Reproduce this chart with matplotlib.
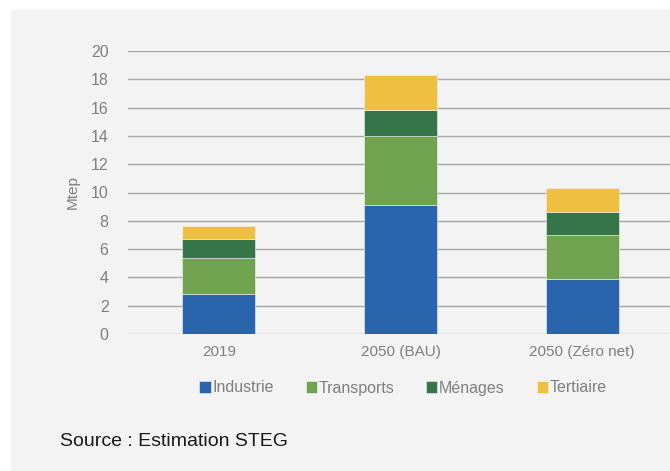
import matplotlib
matplotlib.use("Agg")
import matplotlib.pyplot as plt
from matplotlib.patches import Rectangle
import numpy as np

# Consommation d'énergie par secteur (Mtep)
scenarios = ["2019", "2050 (BAU)", "2050 (Zéro net)"]
industrie = [2.85, 9.1, 3.9]
transports = [2.5, 4.9, 3.1]
menages = [1.35, 1.8, 1.65]
tertiaire = [0.95, 2.5, 1.7]

series = [
    ("Industrie", industrie, "#2964ac"),
    ("Transports", transports, "#71a250"),
    ("Ménages", menages, "#367547"),
    ("Tertiaire", tertiaire, "#efc03f"),
]

plt.rcParams['font.family'] = ['Liberation Sans', 'DejaVu Sans']

fig = plt.figure(figsize=(6.7, 4.71), dpi=100)
fig.patch.set_facecolor("white")
# light grey panel behind the chart
fig.patches.append(Rectangle((11 / 670, 0), 1, 1 - 10 / 471, transform=fig.transFigure,
                             facecolor="#f3f3f3", edgecolor="none", zorder=-10))

ax = fig.add_axes([128 / 670, 1 - 334 / 471, 545 / 670, 283 / 471])
ax.set_facecolor("none")

x = np.arange(len(scenarios))
bottom = np.zeros(len(scenarios))
for name, vals, col in series:
    ax.bar(x, vals, width=0.4, bottom=bottom, color=col, label=name, zorder=3,
           edgecolor="#f3f3f3", linewidth=0.4)
    bottom += np.array(vals)

ax.set_xlim(-0.5, 2.5)
ax.set_ylim(0, 20)
ax.set_yticks(range(0, 21, 2))
ax.set_xticks(x)
ax.set_xticklabels(scenarios)
ax.yaxis.grid(True, color="#a6a6a6", linewidth=1.0, zorder=0)
ax.set_axisbelow(True)
for s in ax.spines.values():
    s.set_visible(False)
ax.tick_params(axis="both", length=0, colors="#7f7f7f")
ax.tick_params(axis="y", pad=14, labelsize=11.5)
ax.tick_params(axis="x", pad=8, labelsize=11)
ax.set_ylabel("Mtep", color="#7f7f7f", fontsize=11, labelpad=8)

leg = ax.legend(loc="center", bbox_to_anchor=(403 / 670, 1 - 388 / 471), bbox_transform=fig.transFigure,
                ncol=4, frameon=False, fontsize=11.5, handlelength=0.7, handleheight=0.7,
                handletextpad=0.1, columnspacing=2.0)
for t in leg.get_texts():
    t.set_color("#7f7f7f")

fig.text(60 / 670, 1 - 441 / 471, "Source : Estimation STEG", fontsize=14, color="#1a1a1a",
         va="center", ha="left")

fig.savefig("out.png", dpi=100, facecolor=fig.get_facecolor())
